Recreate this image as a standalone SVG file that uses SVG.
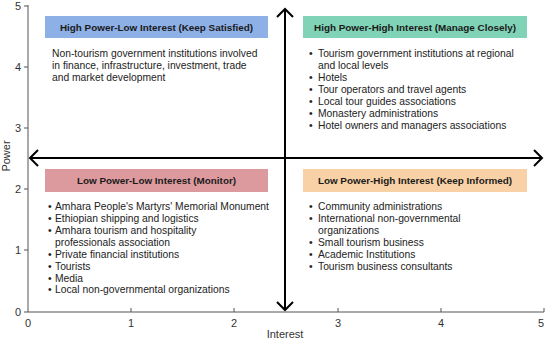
<svg xmlns="http://www.w3.org/2000/svg" width="550" height="341" viewBox="0 0 550 341">
<defs>
<style>
text{font-family:"Liberation Sans",Arial,sans-serif;fill:#222;}
.tick{font-size:11px;fill:#333;}
.ttl{font-size:9.9px;font-weight:bold;text-anchor:middle;fill:#1a1a1a;}
.body{font-size:10.3px;fill:#222;}
.ax{stroke:#555;stroke-width:1;fill:none;}
.arr{stroke:#000;stroke-width:2;fill:none;}
</style>
</defs>
<rect width="550" height="341" fill="#fff"/>
<g id="axes">
<line class="ax" x1="28" y1="5" x2="28" y2="312"/>
<line class="ax" x1="28" y1="312" x2="544" y2="312"/>
<path class="ax" d="M24 6H28M24 67H28M24 128H28M24 189H28M24 250H28M24 312H28"/>
<path class="ax" d="M131 308V312M234 308V312M338 308V312M441 308V312M544 308V312"/>
<text class="tick" x="21" y="10" text-anchor="end">5</text>
<text class="tick" x="21" y="71" text-anchor="end">4</text>
<text class="tick" x="21" y="132" text-anchor="end">3</text>
<text class="tick" x="21" y="193" text-anchor="end">2</text>
<text class="tick" x="21" y="254" text-anchor="end">1</text>
<text class="tick" x="21" y="316" text-anchor="end">0</text>
<text class="tick" x="28" y="327" text-anchor="middle">0</text>
<text class="tick" x="131" y="327" text-anchor="middle">1</text>
<text class="tick" x="234" y="327" text-anchor="middle">2</text>
<text class="tick" x="338" y="327" text-anchor="middle">3</text>
<text class="tick" x="441" y="327" text-anchor="middle">4</text>
<text class="tick" x="544" y="327" text-anchor="end">5</text>
<text class="tick" x="285" y="338" text-anchor="middle">Interest</text>
<text class="tick" transform="translate(10,156) rotate(-90)" text-anchor="middle">Power</text>
</g>
<g id="connectors">
<line class="arr" x1="285" y1="9" x2="285" y2="310"/>
<path class="arr" d="M277 17L285 9L293 17"/>
<path class="arr" d="M277 302L285 310L293 302"/>
<line class="arr" x1="30" y1="158" x2="542" y2="158"/>
<path class="arr" d="M38 150L30 158L38 166"/>
<path class="arr" d="M534 150L542 158L534 166"/>
</g>
<g id="hpli">
<rect x="45" y="16" width="223" height="22" fill="#8db0e6"/>
<text class="ttl" x="156.5" y="30.5">High Power-Low Interest (Keep Satisfied)</text>
<text class="body" x="52" y="57">Non-tourism government institutions involved</text>
<text class="body" x="52" y="69">in finance, infrastructure, investment, trade</text>
<text class="body" x="52" y="81">and market development</text>
</g>
<g id="hphi">
<rect x="303" y="16" width="224" height="22" fill="#80d3b6"/>
<text class="ttl" x="415" y="30.5">High Power-High Interest (Manage Closely)</text>
<text class="body" x="309" y="57">•</text><text class="body" x="318" y="57">Tourism government institutions at regional</text>
<text class="body" x="318" y="69">and local levels</text>
<text class="body" x="309" y="81">•</text><text class="body" x="318" y="81">Hotels</text>
<text class="body" x="309" y="93">•</text><text class="body" x="318" y="93">Tour operators and travel agents</text>
<text class="body" x="309" y="105">•</text><text class="body" x="318" y="105">Local tour guides associations</text>
<text class="body" x="309" y="117">•</text><text class="body" x="318" y="117">Monastery administrations</text>
<text class="body" x="309" y="129">•</text><text class="body" x="318" y="129">Hotel owners and managers associations</text>
</g>
<g id="lpli">
<rect x="45" y="169" width="223" height="23" fill="#dc9a9e"/>
<text class="ttl" x="156.5" y="184">Low Power-Low Interest (Monitor)</text>
<text class="body" x="48" y="210">•</text><text class="body" x="55" y="210">Amhara People's Martyrs' Memorial Monument</text>
<text class="body" x="48" y="222">•</text><text class="body" x="55" y="222">Ethiopian shipping and logistics</text>
<text class="body" x="48" y="234">•</text><text class="body" x="55" y="234">Amhara tourism and hospitality</text>
<text class="body" x="55" y="246">professionals association</text>
<text class="body" x="48" y="258">•</text><text class="body" x="55" y="258">Private financial institutions</text>
<text class="body" x="48" y="270">•</text><text class="body" x="55" y="270">Tourists</text>
<text class="body" x="48" y="282">•</text><text class="body" x="55" y="282">Media</text>
<text class="body" x="48" y="293">•</text><text class="body" x="55" y="293">Local non-governmental organizations</text>
</g>
<g id="lphi">
<rect x="303" y="169" width="224" height="23" fill="#f8d2a6"/>
<text class="ttl" x="415" y="184">Low Power-High Interest (Keep Informed)</text>
<text class="body" x="309" y="210">•</text><text class="body" x="318" y="210">Community administrations</text>
<text class="body" x="309" y="222">•</text><text class="body" x="318" y="222">International non-governmental</text>
<text class="body" x="318" y="234">organizations</text>
<text class="body" x="309" y="246">•</text><text class="body" x="318" y="246">Small tourism business</text>
<text class="body" x="309" y="258">•</text><text class="body" x="318" y="258">Academic Institutions</text>
<text class="body" x="309" y="270">•</text><text class="body" x="318" y="270">Tourism business consultants</text>
</g>
</svg>
